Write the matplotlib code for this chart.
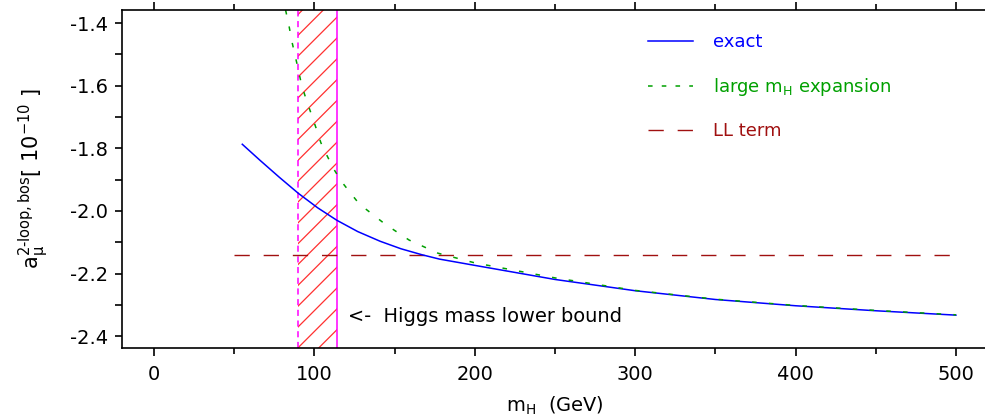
import matplotlib
matplotlib.use('Agg')
import matplotlib.pyplot as plt
from matplotlib.lines import Line2D
from matplotlib.ticker import MultipleLocator

DPI = 125
S = 100 / DPI  # sizes below are tuned for 100 dpi, scale them

plt.rcParams.update({
    'font.family': 'DejaVu Sans',
    'font.size': 14 * S,
    'axes.unicode_minus': False,
    'hatch.linewidth': 0.9 * S,
})

# exact 2-loop bosonic result
mh_exact = [55, 66, 78, 90, 102, 114, 127, 141, 154, 167, 178, 200, 250, 300, 350, 400, 450, 500]
a_exact = [-1.787, -1.838, -1.892, -1.944, -1.990, -2.030, -2.066, -2.097, -2.121, -2.140,
           -2.154, -2.174, -2.219, -2.255, -2.283, -2.303, -2.319, -2.333]

# large m_H expansion
mh_large = [82, 84, 86, 88, 90, 92, 95, 98, 101, 104, 108, 112, 117, 123, 128, 144, 159, 177,
            200, 250, 300, 350, 400, 450, 500]
a_large = [-1.358, -1.405, -1.46, -1.505, -1.55, -1.598, -1.646, -1.69, -1.735, -1.782, -1.825,
           -1.866, -1.907, -1.946, -1.978, -2.042, -2.093, -2.135, -2.166, -2.214, -2.254,
           -2.282, -2.302, -2.318, -2.332]

# leading-log term (constant)
mh_ll = [50, 500]
a_ll = [-2.141, -2.141]

# Higgs mass band
band_lo, band_hi = 90, 114

fig = plt.figure(figsize=(985 / DPI, 417 / DPI), dpi=DPI)
ax = fig.add_axes([122 / 985, 1 - 348 / 417, 866 / 985, 338 / 417])

ax.axvspan(band_lo, band_hi, facecolor='none', edgecolor='#ff3030', hatch='//', linewidth=0)
ax.axvline(band_lo, color='#ff00ff', lw=1.1 * S, dashes=(4, 3))
ax.axvline(band_hi, color='#ff00ff', lw=1.1 * S)

ax.plot(mh_ll, a_ll, color='#a01010', lw=1.0 * S, dashes=(11, 10))
ax.plot(mh_exact, a_exact, color='#0000ff', lw=1.1 * S)
ax.plot(mh_large, a_large, color='#00a000', lw=1.1 * S, dashes=(3, 8))

ax.text(121, -2.336, '<-  Higgs mass lower bound', fontsize=14 * S, va='center', ha='left')

handles = [
    Line2D([], [], color='#0000ff', lw=1.1 * S),
    Line2D([], [], color='#00a000', lw=1.1 * S, dashes=(3, 6)),
    Line2D([], [], color='#a01010', lw=1.0 * S, dashes=(11, 10)),
]
labels = ['exact', r'large $\mathregular{m_H}$ expansion', 'LL term']
ax.legend(handles, labels, loc='upper left', bbox_to_anchor=(0.589, 0.979), frameon=False,
          handlelength=2.5, handletextpad=1.1, labelspacing=1.36, fontsize=13 * S,
          labelcolor=['#0000ff', '#00a000', '#a01010'])

ax.set_xlim(-20, 520)
ax.set_ylim(-2.438, -1.358)
ax.xaxis.set_major_locator(MultipleLocator(100))
ax.xaxis.set_minor_locator(MultipleLocator(50))
ax.yaxis.set_major_locator(MultipleLocator(0.2))
ax.yaxis.set_minor_locator(MultipleLocator(0.1))
ax.yaxis.set_major_formatter(lambda v, p: f'{v:.1f}')
ax.tick_params(axis='x', which='major', direction='out', length=6 * S, width=1.2 * S, top=True, pad=6 * S)
ax.tick_params(axis='x', which='minor', direction='out', length=4 * S, width=1.2 * S, top=True)
ax.tick_params(axis='y', which='both', direction='out', length=5 * S, width=1.2 * S, pad=5 * S)
for s in ax.spines.values():
    s.set_linewidth(1.2 * S)

ax.set_xlabel(r'$\mathregular{m_H}$  (GeV)', labelpad=8 * S)
ax.set_ylabel(r'$\mathregular{a_{\mu}^{2\text{-}loop,bos}}$[ 10$^{\mathregular{-10}}$ ]',
              fontsize=15 * S, labelpad=14 * S)

fig.savefig('out.png', dpi=DPI)
